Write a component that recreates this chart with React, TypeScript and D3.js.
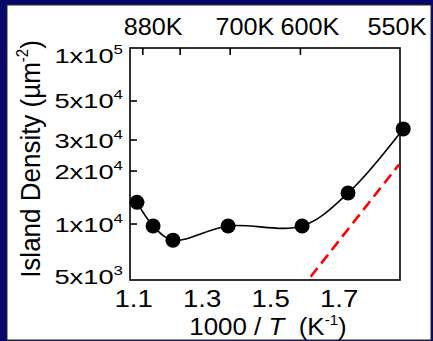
import React from 'react';
import * as d3 from 'd3';

const W = 433;
const H = 341;

// Island density vs inverse temperature (1000/T)
const invT = [1.11, 1.157, 1.215, 1.376, 1.592, 1.726, 1.887];
const density = [13300, 9750, 8100, 9750, 9750, 15000, 34700];

// Arrhenius fit line (dashed)
const fitInvT = [1.617, 1.875];
const fitDensity = [5020, 21800];

// Bottom axis
const bottomTicks = [1.1, 1.3, 1.5, 1.7];

// Left axis
const leftTickValues = [1e4, 2e4, 3e4, 5e4];
const leftLabelValues = [1e5, 5e4, 3e4, 2e4, 1e4, 5e3];
const leftLabelMant = ['1', '5', '3', '2', '1', '5'];
const leftLabelExp = ['5', '4', '4', '4', '4', '3'];

// Top (temperature) axis
const topTickPos = [1.127, 1.236, 1.382, 1.587];
const topLabels = ['880K', '700K', '600K', '550K'];
const topLabelPos = [1.157, 1.425, 1.615, 1.869];

const FONT = '"Liberation Sans", Arial, Helvetica, sans-serif';
const NAVY = '#07076a';

function SText(props: {
  x: number;
  y: number;
  sx?: number;
  size: number;
  anchor?: string;
  children: React.ReactNode;
}) {
  const { x, y, sx = 1, size, anchor = 'middle', children } = props;
  return (
    <g transform={`translate(${x},${y}) scale(${sx},1)`}>
      <text fontFamily={FONT} fontSize={size} textAnchor={anchor} fill="#000">
        {children}
      </text>
    </g>
  );
}

export default function App() {
  const left = 130;
  const right = 400;
  const top = 48;
  const bottom = 280;

  const x = d3.scaleLinear().domain([1.0896, 1.8777]).range([left, right]);
  const y = d3.scaleLog().domain([4808, 1e5]).range([bottom, top]);

  const pts: [number, number][] = invT.map((v, i) => [x(v), y(density[i])]);
  const curve = d3.line().curve(d3.curveCatmullRom.alpha(0.5))(pts) || '';
  const fit = d3.line()(fitInvT.map((v, i) => [x(v), y(fitDensity[i])] as [number, number])) || '';

  return (
    <svg
      width={W}
      height={H}
      style={{ position: 'absolute', left: 0, top: 0 }}
      xmlns="http://www.w3.org/2000/svg"
    >
      <rect x={0} y={0} width={W} height={H} fill={NAVY} />
      <rect x={7} y={5} width={424} height={335} fill="#fff" stroke="#2a2a2a" strokeWidth={1} />

      {/* top axis labels (temperature) */}
      {topLabels.map((t, i) => (
        <SText key={t} x={x(topLabelPos[i])} y={35} sx={1.05} size={24}>
          {t}
        </SText>
      ))}

      {/* left axis labels */}
      {leftLabelValues.map((v, i) => {
        const cy = Math.min(276, Math.max(55, y(v)));
        return (
          <SText key={i} x={123} y={cy + 7.5} sx={1.3} size={21} anchor="end">
            {`${leftLabelMant[i]}x10`}
            <tspan fontSize={13} dy={-9}>
              {leftLabelExp[i]}
            </tspan>
          </SText>
        );
      })}

      {/* bottom axis labels */}
      {bottomTicks.map((v) => (
        <SText key={v} x={x(v)} y={307} sx={1.2} size={23}>
          {v.toFixed(1)}
        </SText>
      ))}

      {/* x title */}
      <SText x={268} y={335} sx={1.08} size={24}>
        {'1000 / '}
        <tspan fontStyle="italic">T</tspan>
        {'\u00a0 (K'}
        <tspan fontSize={14} dy={-10}>
          -1
        </tspan>
        <tspan dy={10}>)</tspan>
      </SText>

      {/* y title */}
      <g transform={`translate(40,159) rotate(-90) scale(1,1.08)`}>
        <text fontFamily={FONT} fontSize={26} textAnchor="middle" fill="#000">
          {'Island Density (\u00b5m'}
          <tspan fontSize={15} dy={-11}>
            -2
          </tspan>
          <tspan dy={11}>)</tspan>
        </text>
      </g>

      {/* plot frame */}
      <rect x={left} y={top} width={right - left} height={bottom - top} fill="none" stroke="#000" strokeWidth={1.6} />

      {/* ticks */}
      {leftTickValues.map((v) => (
        <line key={v} x1={left} x2={left + 7} y1={y(v)} y2={y(v)} stroke="#000" strokeWidth={1.6} />
      ))}
      {topTickPos.map((v) => (
        <line key={v} x1={x(v)} x2={x(v)} y1={top} y2={top + 7} stroke="#000" strokeWidth={1.6} />
      ))}

      {/* fit line */}
      <path d={fit} fill="none" stroke="#ff0000" strokeWidth={2.6} strokeDasharray="11,6" />

      {/* data curve and points */}
      <path d={curve} fill="none" stroke="#000" strokeWidth={1.6} />
      {pts.map(([px, py], i) => (
        <circle key={i} cx={px} cy={py} r={7.5} fill="#000" />
      ))}
    </svg>
  );
}
